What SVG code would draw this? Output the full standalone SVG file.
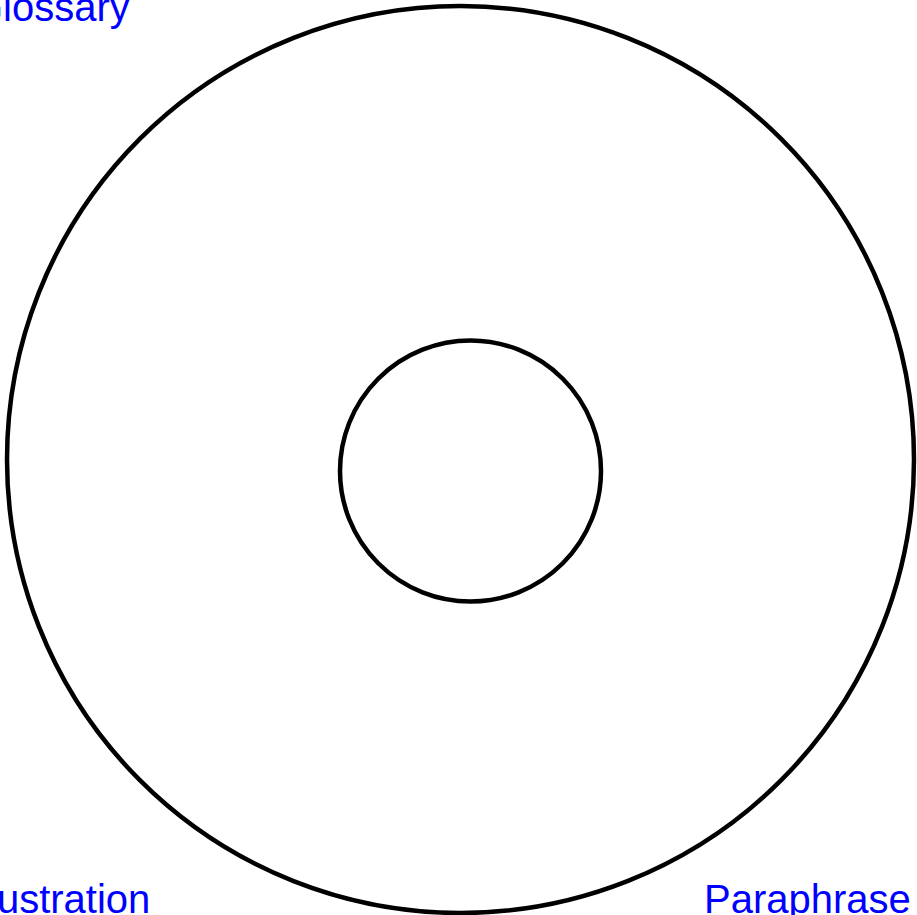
<svg xmlns="http://www.w3.org/2000/svg" width="917" height="915" viewBox="0 0 917 915">
<style>
.ring{fill:none;stroke:#000;stroke-width:4.5}
.lbl{font-family:"Liberation Sans",Arial,sans-serif;font-size:40px;fill:#0000ff}
</style>
<rect width="917" height="915" fill="#fff"/>
<g id="outer"><circle class="ring" cx="460.5" cy="459.5" r="453.5"/></g>
<g id="inner"><circle class="ring" cx="470.5" cy="471" r="130.5"/></g>
<g id="glossary"><text class="lbl" x="-28" y="21">Glossary</text></g>
<g id="illustration"><text class="lbl" x="-32" y="913">Illustration</text></g>
<g id="paraphrase"><text class="lbl" x="704" y="913">Paraphrase</text></g>
<g id="connectors"></g>
</svg>
